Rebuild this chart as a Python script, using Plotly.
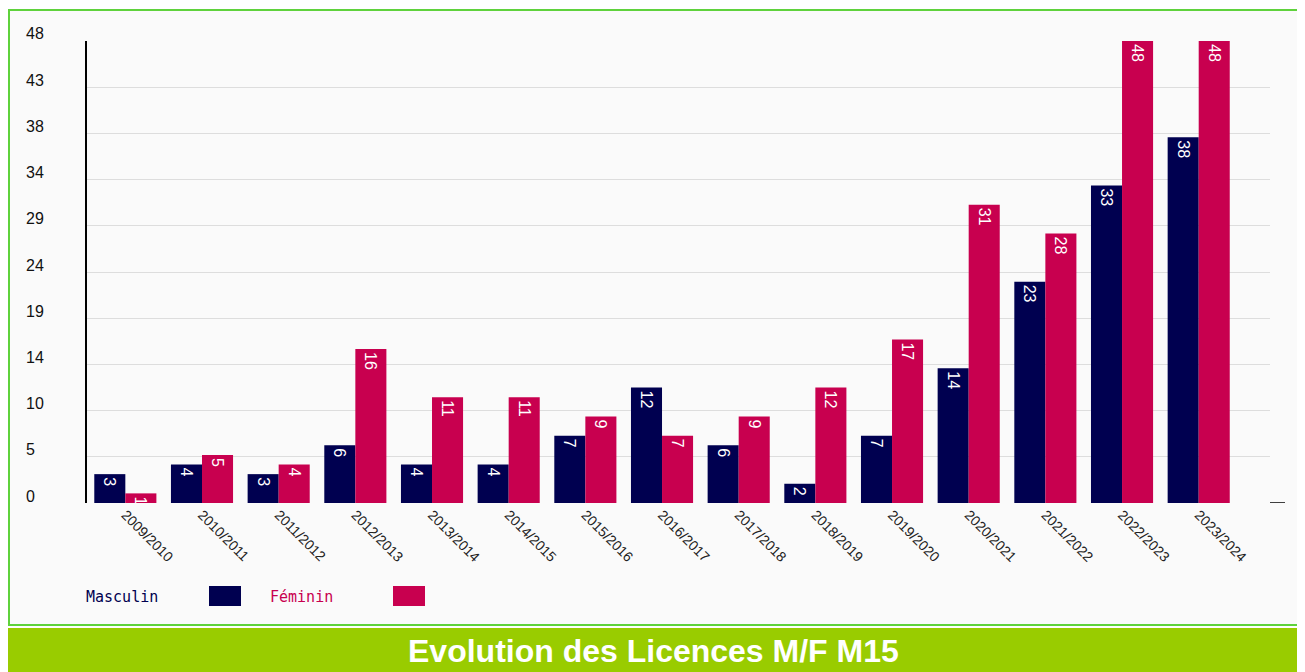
import plotly.graph_objects as go

seasons = ["2009/2010", "2010/2011", "2011/2012", "2012/2013", "2013/2014",
           "2014/2015", "2015/2016", "2016/2017", "2017/2018", "2018/2019",
           "2019/2020", "2020/2021", "2021/2022", "2022/2023", "2023/2024"]
masculin = [3, 4, 3, 6, 4, 4, 7, 12, 6, 2, 7, 14, 23, 33, 38]
feminin = [1, 5, 4, 16, 11, 11, 9, 7, 9, 12, 17, 31, 28, 48, 48]
y_ticks = [0, 4.8, 9.6, 14.4, 19.2, 24, 28.8, 33.6, 38.4, 43.2, 48]
y_tick_labels = ["0", "5", "10", "14", "19", "24", "29", "34", "38", "43", "48"]

# page body has an 8px margin: the figure is drawn at (8, 8)
OFF = 8
W, H = 1305 - OFF, 672 - OFF
NAVY = "#000050"
CRIMSON = "#c8004f"


def px(x):
    return (x - OFF) / W


def py(y):
    return 1 - (y - OFF) / H


fig = go.Figure()
bar_font = dict(family="Liberation Sans, Arial, sans-serif", size=16, color="white")
fig.add_trace(go.Bar(x=seasons, y=masculin, name="Masculin", marker_color=NAVY,
                     text=[str(v) for v in masculin], textposition="inside",
                     insidetextanchor="end", textangle=90, textfont=bar_font,
                     constraintext="none", marker_line_width=0))
fig.add_trace(go.Bar(x=seasons, y=feminin, name="Féminin", marker_color=CRIMSON,
                     text=[str(v) for v in feminin], textposition="inside",
                     insidetextanchor="end", textangle=90, textfont=bar_font,
                     constraintext="none", marker_line_width=0))

shapes = [
    # background panel with green border
    dict(type="rect", xref="paper", yref="paper", x0=px(9), x1=px(1298), y0=py(625), y1=py(10),
         fillcolor="#fafafa", line=dict(color="#5fd23c", width=2), layer="below"),
    # title bar
    dict(type="rect", xref="paper", yref="paper", x0=px(8), x1=px(1299), y0=0, y1=py(628),
         fillcolor="#99cc00", line=dict(width=0), layer="below"),
    # small black tick at right end of baseline
    dict(type="line", xref="paper", yref="y", x0=px(1270), x1=px(1285), y0=0, y1=0,
         line=dict(color="black", width=1.5)),
    # legend swatches
    dict(type="rect", xref="paper", yref="paper", x0=px(209), x1=px(241), y0=py(606), y1=py(586),
         fillcolor=NAVY, line=dict(width=0)),
    dict(type="rect", xref="paper", yref="paper", x0=px(393), x1=px(425), y0=py(606), y1=py(586),
         fillcolor=CRIMSON, line=dict(width=0)),
]

annotations = []
for v, lab in zip(y_ticks, y_tick_labels):
    annotations.append(dict(x=px(24), y=v, xref="paper", yref="y", text=lab, showarrow=False,
                            xanchor="left", yanchor="middle", yshift=7,
                            font=dict(family="Liberation Sans, Arial, sans-serif", size=16,
                                      color="#111")))
annotations += [
    dict(x=px(84), y=py(597), xref="paper", yref="paper", text="Masculin", showarrow=False,
         xanchor="left", yanchor="middle",
         font=dict(family="DejaVu Sans Mono, monospace", size=15, color=NAVY)),
    dict(x=px(268), y=py(597), xref="paper", yref="paper", text="Féminin", showarrow=False,
         xanchor="left", yanchor="middle",
         font=dict(family="DejaVu Sans Mono, monospace", size=15, color=CRIMSON)),
    dict(x=px(653), y=py(651), xref="paper", yref="paper",
         text="<b>Evolution des Licences M/F M15</b>", showarrow=False,
         xanchor="center", yanchor="middle",
         font=dict(family="Liberation Sans, Arial, sans-serif", size=32, color="white")),
]

fig.update_layout(
    width=W, height=H,
    margin=dict(l=0, r=0, t=0, b=0),
    paper_bgcolor="white",
    plot_bgcolor="rgba(0,0,0,0)",
    barmode="group",
    bargap=0.19,
    bargroupgap=0,
    showlegend=False,
    shapes=shapes,
    annotations=annotations,
    xaxis=dict(domain=[px(87), px(1270)], type="category", range=[-0.5, 14.93],
               tickangle=45, showgrid=False, showline=False, zeroline=False, ticks="",
               tickfont=dict(family="Liberation Sans, Arial, sans-serif", size=14, color="#222")),
    yaxis=dict(domain=[py(503), py(41)], range=[0, 48], tickvals=y_ticks,
               showticklabels=False, showgrid=True, gridcolor="#dddddd", gridwidth=1,
               zeroline=False, showline=True, linecolor="black", linewidth=1.5, ticks=""),
)

fig.write_html("out.html")
